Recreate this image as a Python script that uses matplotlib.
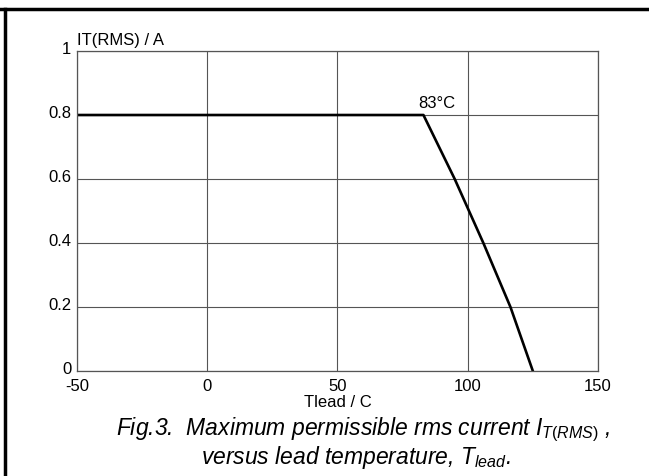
import matplotlib
matplotlib.use("Agg")
import matplotlib.pyplot as plt
import matplotlib.transforms as mtransforms
from matplotlib.lines import Line2D

### Data
#####################################

t_lead = [-50, 83, 89, 95, 100.5, 106, 111.2, 116.4, 125]
i_rms = [0.8, 0.8, 0.7, 0.6, 0.5, 0.4, 0.3, 0.2, 0.0]
x_ticks = [-50, 0, 50, 100, 150]
x_tick_labels = ['-50', '0', '50', '100', '150']
y_ticks = [0, 0.2, 0.4, 0.6, 0.8, 1]
y_tick_labels = ['0', '0.2', '0.4', '0.6', '0.8', '1']

plt.rcParams['font.family'] = ['Liberation Sans', 'DejaVu Sans']
plt.rcParams['mathtext.fontset'] = 'custom'
plt.rcParams['mathtext.it'] = 'Liberation Sans:italic'
plt.rcParams['mathtext.rm'] = 'Liberation Sans'

fig = plt.figure(figsize=(6.49, 4.77), dpi=100)
ax = fig.add_axes([0.1186, 0.220, 0.8028, 0.671])

ax.plot(t_lead, i_rms, color='black', lw=1.9, solid_joinstyle='round')
ax.set_xlim(-50, 150)
ax.set_ylim(0, 1)
ax.set_xticks(x_ticks)
ax.set_xticklabels(x_tick_labels)
ax.set_yticks(y_ticks)
ax.set_yticklabels(y_tick_labels)
ax.tick_params(length=0, labelsize=12)
ax.tick_params(axis='x', pad=5)
ax.tick_params(axis='y', pad=4)
ax.grid(True, color='#555555', lw=0.8)
for s in ax.spines.values():
    s.set_color('#555555')
    s.set_linewidth(0.9)

# y labels sit a little above their grid lines in the original
up = mtransforms.ScaledTranslation(0, 3 / 72, fig.dpi_scale_trans)
for lab in ax.get_yticklabels():
    lab.set_transform(lab.get_transform() + up)

ax.set_xlabel('Tlead / C', fontsize=12, labelpad=1)
ax.text(0.0, 1.012, 'IT(RMS) / A', transform=ax.transAxes, fontsize=12,
        ha='left', va='bottom')
ax.text(81, 0.815, '83°C', fontsize=12, ha='left', va='bottom')

# caption under the plot
fig.text(0.560, 0.098, r'Fig.3.  Maximum permissible rms current $I_{T(RMS)}$ ,',
         fontsize=16.5, style='italic', ha='center', va='center')
fig.text(0.548, 0.040, r'versus lead temperature, $T_{lead}$.',
         fontsize=16.5, style='italic', ha='center', va='center')

# thick frame at top and left
fig.add_artist(Line2D([0.0, 1.0], [1 - 10 / 477, 1 - 10 / 477], color='black',
                      lw=2.5, transform=fig.transFigure))
fig.add_artist(Line2D([4.5 / 649, 4.5 / 649], [0.0, 1 - 10 / 477], color='black',
                      lw=2.5, transform=fig.transFigure))

fig.savefig('out.png', dpi=100)
